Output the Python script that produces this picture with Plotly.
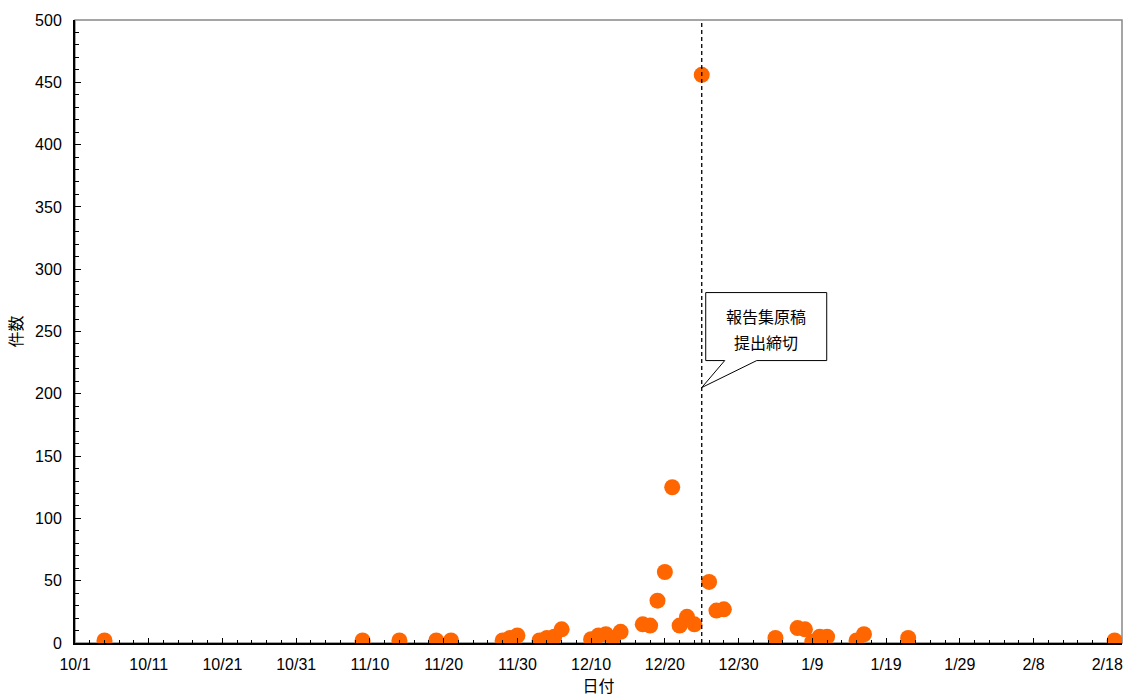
import plotly.graph_objects as go

# Daily counts of submissions
dates = [
    "2006-10-05", "2006-11-09", "2006-11-14", "2006-11-19", "2006-11-21",
    "2006-11-28", "2006-11-29", "2006-11-30", "2006-12-03", "2006-12-04",
    "2006-12-05", "2006-12-06", "2006-12-10", "2006-12-11", "2006-12-12",
    "2006-12-13", "2006-12-14", "2006-12-17", "2006-12-18", "2006-12-19",
    "2006-12-20", "2006-12-21", "2006-12-22", "2006-12-23", "2006-12-24",
    "2006-12-25", "2006-12-26", "2006-12-27", "2006-12-28", "2007-01-04",
    "2007-01-07", "2007-01-08", "2007-01-09", "2007-01-10", "2007-01-11",
    "2007-01-15", "2007-01-16", "2007-01-22", "2007-02-19",
]
counts = [
    2, 2, 2, 2, 2,
    2, 4, 6, 2, 4,
    5, 11, 3, 6, 7,
    4, 9, 15, 14, 34,
    57, 125, 14, 21, 15,
    456, 49, 26, 27, 4,
    12, 11, 1, 5, 5,
    2, 7, 4, 2,
]

deadline = "2006-12-25"
callout_y = 205
callout_lines = ["報告集原稿", "提出締切"]

x_range = ["2006-10-01", "2007-02-20"]
y_range = [0, 500]

DAY_MS = 86400000
font_jp = "Noto Sans CJK JP"
font_num = "Liberation Sans"

fig = go.Figure()
fig.add_trace(go.Scatter(
    x=dates, y=counts, mode="markers",
    marker=dict(color="#FF6600", size=16, line=dict(width=0)),
    hoverinfo="skip", showlegend=False,
))

# plot-area frame (top/right edges in grey)
fig.add_shape(type="rect", xref="paper", yref="paper", x0=0, x1=1, y0=0, y1=1,
              line=dict(color="#888888", width=1.5), layer="below")

# deadline marker line
fig.add_shape(type="line", xref="x", yref="paper", x0=deadline, x1=deadline,
              y0=0, y1=1, line=dict(color="black", width=1.3, dash="4px,3px"))

# speech-bubble callout pointing at the deadline line
fig.add_shape(type="path", xref="x", yref="y",
              xsizemode="pixel", ysizemode="pixel",
              xanchor=deadline, yanchor=callout_y,
              path="M 0,0 L 23,27 L 4,27 L 4,95 L 125,95 L 125,27 L 55,27 Z",
              fillcolor="white", line=dict(color="black", width=1))
for line_text, dy in zip(callout_lines, [72, 46]):
    fig.add_annotation(x=deadline, y=callout_y, xref="x", yref="y",
                       xshift=64.5, yshift=dy, text=line_text, showarrow=False,
                       font=dict(family=font_jp, size=16, color="black"))

fig.update_xaxes(
    type="date", range=x_range, tick0="2006-10-01", dtick=10 * DAY_MS,
    tickformat="%-m/%-d", ticks="inside", ticklen=5, tickwidth=1.3,
    tickcolor="black", showline=True, linecolor="black", linewidth=2,
    showgrid=False, zeroline=False, ticklabelstandoff=6,
    minor=dict(dtick=2 * DAY_MS, tick0="2006-10-01", ticks="inside",
               ticklen=3, tickwidth=1, tickcolor="black", showgrid=False),
    tickfont=dict(family=font_num, size=16, color="black"),
    title=dict(text="日付", font=dict(family=font_jp, size=16, color="black"),
               standoff=9),
)
fig.update_yaxes(
    range=y_range, dtick=50, ticks="inside", ticklen=6, tickwidth=1.3,
    tickcolor="black", showline=True, linecolor="black", linewidth=2,
    showgrid=False, zeroline=False, ticklabelstandoff=8,
    minor=dict(dtick=10, ticks="inside", ticklen=4, tickwidth=1,
               tickcolor="black", showgrid=False),
    tickfont=dict(family=font_num, size=16, color="black"),
    title=dict(text="件数", font=dict(family=font_jp, size=16, color="black"),
               standoff=8),
)

fig.update_layout(
    width=1126, height=698,
    margin=dict(l=75, r=4, t=20, b=55),
    plot_bgcolor="white", paper_bgcolor="white",
)

fig.write_html("out.html")
